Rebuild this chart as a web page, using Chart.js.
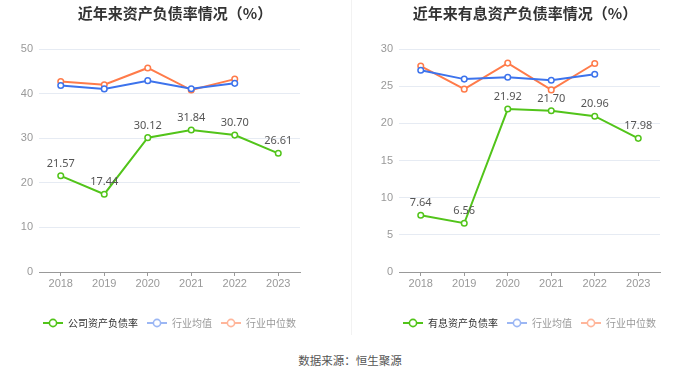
<!DOCTYPE html>
<html>
<head>
<meta charset="utf-8">
<script src="https://cdn.jsdelivr.net/npm/chart.js@4.4.1/dist/chart.umd.min.js"></script>
<style>
body{margin:0;background:#fff;font-family:"Noto Sans CJK SC","Noto Sans",sans-serif}
#wrap{position:relative;width:700px;height:378px;overflow:hidden}
.box{position:absolute;top:0;width:350px;height:345px}
#sep{position:absolute;left:351px;top:0;width:1px;height:335px;background:#f2f2f2}
#src{position:absolute;top:352px;left:0;width:700px;text-align:center;font-size:11.5px;color:#555}
</style>
</head>
<body>
<div id="wrap">
  <div class="box" style="left:0"><canvas id="c1"></canvas></div>
  <div id="sep"></div>
  <div class="box" style="left:350px"><canvas id="c2"></canvas></div>
  <div id="src">数据来源：恒生聚源</div>
</div>
<script>
const years = ['2018', '2019', '2020', '2021', '2022', '2023'];

// 资产负债率
const debtRatio = [21.57, 17.44, 30.12, 31.84, 30.70, 26.61];
const debtAvg = [41.8, 41.05, 42.9, 41.1, 42.3, null];
const debtMedian = [42.7, 42.0, 45.75, 40.8, 43.25, null];

// 有息资产负债率
const ibRatio = [7.64, 6.56, 21.92, 21.70, 20.96, 17.98];
const ibAvg = [27.15, 25.95, 26.2, 25.8, 26.6, null];
const ibMedian = [27.7, 24.6, 28.1, 24.5, 28.05, null];

const GREEN = '#52c41a', BLUE = '#3d73ec', ORANGE = '#ff7b4a';
const LEG_COLORS = [GREEN, '#9cb7f4', '#ffb69b'];

function legendIcon(color){
  const c = document.createElement('canvas');
  c.width = 20; c.height = 10;
  const g = c.getContext('2d');
  g.strokeStyle = color; g.lineWidth = 2;
  g.beginPath(); g.moveTo(0, 5); g.lineTo(20, 5); g.stroke();
  g.beginPath(); g.arc(10, 5, 3.6, 0, Math.PI * 2);
  g.fillStyle = '#fff'; g.fill(); g.lineWidth = 1.6; g.stroke();
  return c;
}

const labelPlugin = {
  id: 'valLabels',
  afterDatasetsDraw(chart){
    const ctx = chart.ctx;
    const ds = chart.data.datasets[0];
    const meta = chart.getDatasetMeta(0);
    ctx.save();
    ctx.font = '11px "Noto Sans", sans-serif';
    ctx.fillStyle = '#555';
    ctx.textAlign = 'center';
    ctx.textBaseline = 'middle';
    meta.data.forEach((pt, i) => {
      ctx.fillText(ds.data[i].toFixed(2), pt.x, pt.y - 12);
    });
    ctx.restore();
  }
};

const titlePlugin = {
  id: 'topTitle',
  afterDraw(chart){
    const ctx = chart.ctx;
    ctx.save();
    ctx.font = 'bold 15px "Noto Sans CJK SC", sans-serif';
    ctx.fillStyle = '#333';
    ctx.textAlign = 'center';
    ctx.textBaseline = 'middle';
    ctx.fillText(chart.options.plugins.topTitle.text, chart.width / 2, 13);
    ctx.restore();
  }
};

// centre the legend row under the plot area instead of the whole canvas
const legendUnderPlot = {
  id: 'legendUnderPlot',
  afterLayout(chart){
    const lg = chart.legend;
    if (!lg) return;
    const dx = (chart.chartArea.left + chart.chartArea.right) / 2 - (lg.left + lg.right) / 2;
    lg.left += dx;
    lg.right += dx;
  }
};

function line(label, data, color){
  return {
    label: label, data: data,
    borderColor: color, backgroundColor: '#fff',
    borderWidth: 2, pointRadius: 2.8, pointBorderWidth: 1.5,
    pointBackgroundColor: '#fff', pointBorderColor: color,
    tension: 0, spanGaps: false
  };
}

function makeChart(id, title, names, series, yMax, yStep, yWidth, padRight){
  new Chart(document.getElementById(id), {
    type: 'line',
    data: {
      labels: years,
      datasets: [
        line(names[0], series[0], GREEN),
        line(names[1], series[1], BLUE),
        line(names[2], series[2], ORANGE)
      ]
    },
    options: {
      responsive: true,
      maintainAspectRatio: false,
      animation: false,
      events: [],
      layout: {padding: {top: 49, left: 0, right: padRight, bottom: 7}},
      scales: {
        x: {
          offset: true,
          grid: {drawOnChartArea: false, offset: false, color: '#999', tickLength: 4},
          border: {color: '#999'},
          ticks: {color: '#999', font: {size: 11}, padding: 1},
          afterFit: s => { s.height = 37; }
        },
        y: {
          min: 0, max: yMax,
          ticks: {stepSize: yStep, color: '#999', font: {size: 11}, padding: 6},
          grid: {color: '#e6ebf3', drawTicks: false},
          border: {display: false},
          afterFit: s => { s.width = yWidth; }
        }
      },
      plugins: {
        topTitle: {text: title},
        tooltip: {enabled: false},
        legend: {
          position: 'bottom',
          labels: {
            usePointStyle: true,
            pointStyleWidth: 20,
            padding: 9,
            font: {size: 10, family: '"Noto Sans CJK SC", sans-serif'},
            generateLabels: chart => chart.data.datasets.map((d, i) => ({
              text: d.label,
              fontColor: i === 0 ? '#333' : '#999',
              pointStyle: legendIcon(LEG_COLORS[i]),
              datasetIndex: i,
              lineWidth: 0,
              hidden: false
            }))
          }
        }
      }
    },
    plugins: [labelPlugin, titlePlugin, legendUnderPlot]
  });
}

makeChart('c1', '近年来资产负债率情况（%）',
  ['公司资产负债率', '行业均值', '行业中位数'],
  [debtRatio, debtAvg, debtMedian], 50, 10, 39, 50);

makeChart('c2', '近年来有息资产负债率情况（%）',
  ['有息资产负债率', '行业均值', '行业中位数'],
  [ibRatio, ibAvg, ibMedian], 30, 5, 49, 40);
</script>
</body>
</html>
